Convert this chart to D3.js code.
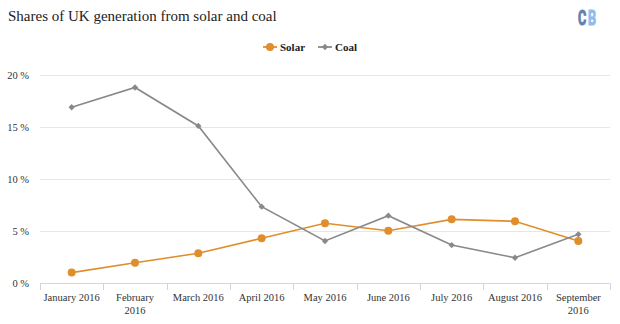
<!DOCTYPE html>
<html lang="en">
<head>
  <meta charset="UTF-8">
  <title>Shares of UK generation from solar and coal</title>
  <script src="https://d3js.org/d3.v7.min.js"></script>
  <style>
    body {
      margin: 0;
      background: #fff;
      font-family: "Liberation Serif", "Times New Roman", serif;
    }
    .grid line {
      stroke: #e6e6e6;
    }
    .tick text {
      fill: #333;
      font-size: 10.5px;
    }
  </style>
</head>
<body>
  <div id="chart"></div>

  <script>
    const months = ["January 2016", "February 2016", "March 2016", "April 2016", "May 2016",
      "June 2016", "July 2016", "August 2016", "September 2016"];
    const solar = [1.0, 1.95, 2.86, 4.3, 5.74, 5.03, 6.12, 5.93, 4.04];
    const coal = [16.9, 18.8, 15.1, 7.34, 4.04, 6.47, 3.65, 2.43, 4.68];
    const yTicks = [0, 5, 10, 15, 20];

    const series = [
      {name: "Solar", values: solar, color: "#e08d2c", marker: d3.symbolCircle, size: 50, rot: 0},
      {name: "Coal", values: coal, color: "#898989", marker: d3.symbolSquare, size: 20, rot: 45}
    ];

    const serif = "Liberation Serif, Times New Roman, serif";
    const W = 620, H = 324;
    const margin = {top: 75, right: 10, bottom: 41, left: 40};
    const width = W - margin.left - margin.right;
    const height = H - margin.top - margin.bottom;

    const root = d3.select("#chart")
      .append("svg")
      .attr("width", W)
      .attr("height", H)
      .style("font-family", serif);

    // title
    root.append("text")
      .attr("x", 8)
      .attr("y", 21)
      .style("font-family", serif)
      .attr("font-size", 15)
      .attr("fill", "#222")
      .text("Shares of UK generation from solar and coal");

    // logo, squeezed horizontally
    const logo = root.append("g")
      .attr("transform", "translate(578,25) scale(0.6,1)")
      .style("font-family", "Roboto, sans-serif")
      .attr("font-weight", "bold")
      .attr("font-size", 21)
      .attr("stroke-width", 1.1);
    logo.append("text").attr("x", 0).attr("fill", "#5e84ab").attr("stroke", "#5e84ab").text("C");
    logo.append("text").attr("x", 16.5).attr("fill", "#8fbde9").attr("stroke", "#8fbde9").text("B");

    const svg = root.append("g")
      .attr("transform", `translate(${margin.left},${margin.top})`);

    const x = d3.scaleBand()
      .domain(months)
      .range([0, width]);

    const y = d3.scaleLinear()
      .domain([0, 20])
      .range([height, 0]);

    // gridlines
    svg.append("g")
      .attr("class", "grid")
      .selectAll("line")
      .data(yTicks.filter(d => d > 0))
      .join("line")
      .attr("x1", 0)
      .attr("x2", width)
      .attr("y1", d => y(d) + 0.5)
      .attr("y2", d => y(d) + 0.5);

    // y axis
    const yAxis = svg.append("g")
      .call(d3.axisLeft(y).tickValues(yTicks).tickSize(0).tickPadding(11)
        .tickFormat(d => d + " %"))
      .attr("font-family", serif);
    yAxis.select(".domain").remove();

    // x axis
    const xAxis = svg.append("g")
      .attr("transform", `translate(0,${height})`)
      .call(d3.axisBottom(x).tickSize(0).tickPadding(11))
      .attr("font-family", serif);
    xAxis.select(".domain")
      .attr("stroke", "#ccd6eb")
      .attr("d", `M0.5,0.5H${width - 0.5}`);

    // category separator ticks
    xAxis.selectAll(".sep")
      .data(d3.range(months.length + 1))
      .join("line")
      .attr("class", "sep")
      .attr("stroke", "#ccd6eb")
      .attr("x1", i => Math.round(i * x.step()) + 0.5)
      .attr("x2", i => Math.round(i * x.step()) + 0.5)
      .attr("y1", 0)
      .attr("y2", 7);

    // wrap long labels
    xAxis.selectAll(".tick text").each(function(d) {
      const t = d3.select(this);
      if (this.getComputedTextLength() > 57) {
        const words = d.split(" ");
        t.text(null);
        t.append("tspan").attr("x", 0).attr("dy", "0.71em").text(words.slice(0, -1).join(" "));
        t.append("tspan").attr("x", 0).attr("dy", "1.2em").text(words[words.length - 1]);
        t.attr("dy", null);
      }
    });

    const cx = d => x(d) + x.bandwidth() / 2;
    const line = d3.line()
      .x((v, i) => cx(months[i]))
      .y(v => y(v));

    series.forEach(s => {
      svg.append("path")
        .datum(s.values)
        .attr("fill", "none")
        .attr("stroke", s.color)
        .attr("stroke-width", 1.6)
        .attr("d", line);

      svg.append("g")
        .selectAll("path")
        .data(s.values)
        .join("path")
        .attr("transform", (v, i) => `translate(${cx(months[i])},${y(v)}) rotate(${s.rot})`)
        .attr("d", d3.symbol(s.marker, s.size))
        .attr("fill", s.color);
    });

    // legend
    const legendPos = [{x: 263, tx: 280}, {x: 318, tx: 335}];
    const legend = root.append("g")
      .selectAll("g")
      .data(series)
      .join("g")
      .attr("transform", (s, i) => `translate(${legendPos[i].x},47)`);
    legend.append("line")
      .attr("x1", 0).attr("x2", 14)
      .attr("stroke", s => s.color)
      .attr("stroke-width", 1.8);
    legend.append("path")
      .attr("transform", s => `translate(7,0) rotate(${s.rot})`)
      .attr("d", s => d3.symbol(s.marker, s.size)())
      .attr("fill", s => s.color);
    legend.append("text")
      .attr("x", (s, i) => legendPos[i].tx - legendPos[i].x)
      .attr("dy", "0.35em")
      .style("font-family", serif)
      .attr("font-size", 11)
      .attr("font-weight", "bold")
      .attr("fill", "#222")
      .text(s => s.name);
  </script>
</body>
</html>
